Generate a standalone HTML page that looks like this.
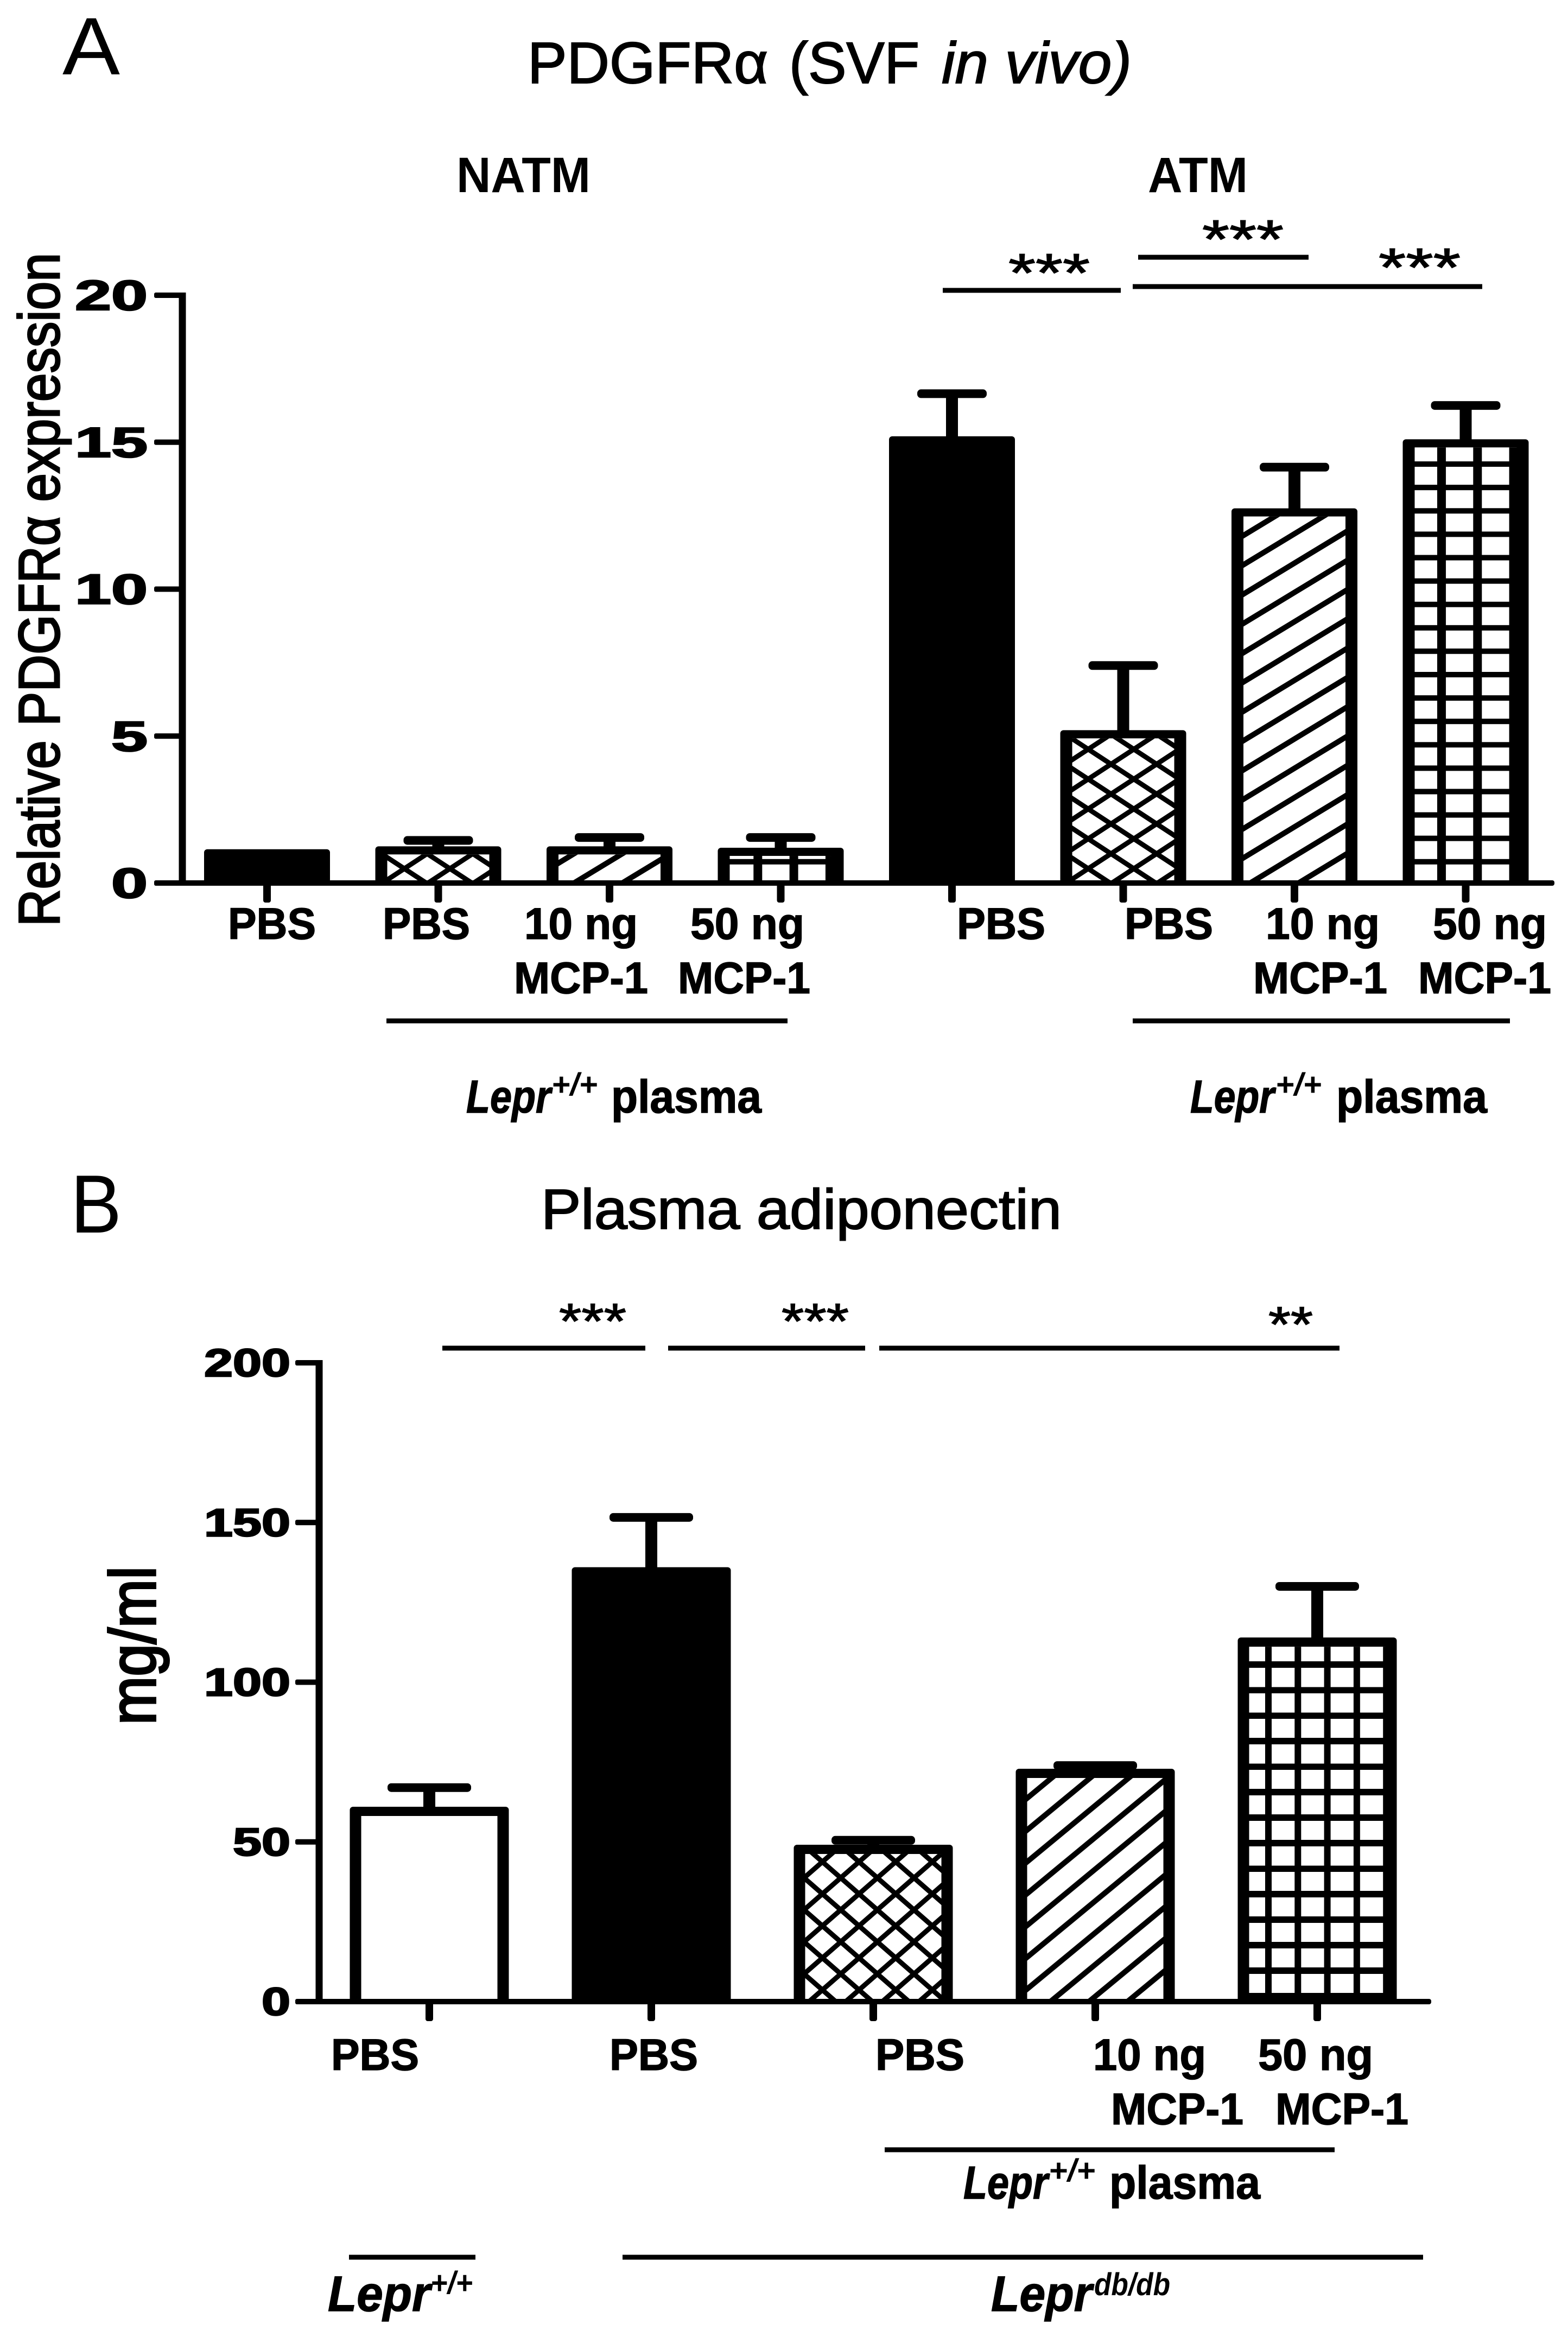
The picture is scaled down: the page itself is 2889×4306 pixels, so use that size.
<!DOCTYPE html>
<html lang="en">
<head>
<meta charset="utf-8">
<title>PDGFRα and plasma adiponectin bar charts</title>
<style>
html,body{margin:0;padding:0;background:#fff;}
svg{display:block;}
text{font-family:"Liberation Sans",sans-serif;fill:#000;}
.b{font-weight:bold;}
.i{font-style:italic;}
.cat{font-weight:bold;font-size:82px;stroke:#000;stroke-width:1.5px;}
.lep{font-weight:bold;font-size:85px;stroke:#000;stroke-width:1.5px;}
.sup{font-weight:bold;font-style:italic;font-size:58px;}
.sig{font-size:100px;stroke:#000;stroke-width:1.5px;}
.sigb{font-size:92px;stroke:#000;stroke-width:1.5px;}
.heavy{stroke:#000;stroke-width:2px;}
.ln{stroke:#000;stroke-width:9;stroke-linecap:butt;}
</style>
</head>
<body>
<svg id="fig" xmlns="http://www.w3.org/2000/svg" width="2889" height="4306" viewBox="0 0 2889 4306">
<defs>
<pattern id="crossA" patternUnits="userSpaceOnUse" width="84" height="55" patternTransform="translate(2047,1408)">
<path d="M-84 -55L168 110M0 -55L252 110M-168 -55L84 110M-84 110L168 -55M-168 110L84 -55M0 110L252 -55" stroke="#000" stroke-width="9" fill="none"/>
</pattern>
<pattern id="diagA" patternUnits="userSpaceOnUse" width="89" height="54" patternTransform="translate(2292,1256)">
<path d="M-89 108L178 -54M-178 108L89 -54M0 108L267 -54" stroke="#000" stroke-width="10" fill="none"/>
</pattern>
<pattern id="gridA" patternUnits="userSpaceOnUse" width="66.3" height="43.1" patternTransform="translate(2648,1238)">
<rect x="0" y="0" width="66.3" height="10" fill="#000"/><rect x="0" y="0" width="16" height="43.1" fill="#000"/>
</pattern>
<pattern id="crossB" patternUnits="userSpaceOnUse" width="67.5" height="59" patternTransform="translate(1549,3460)">
<path d="M-67.5 -59L135 118M0 -59L202.5 118M-135 -59L67.5 118M-67.5 118L135 -59M-135 118L67.5 -59M0 118L202.5 -59" stroke="#000" stroke-width="9" fill="none"/>
</pattern>
<pattern id="diagB" patternUnits="userSpaceOnUse" width="71" height="58.6" patternTransform="translate(1891,3314.4)">
<path d="M-71 117.2L142 -58.6M-142 117.2L71 -58.6M0 117.2L213 -58.6" stroke="#000" stroke-width="10" fill="none"/>
</pattern>
<pattern id="gridB" patternUnits="userSpaceOnUse" width="54.3" height="47" patternTransform="translate(2331,3061)">
<rect x="0" y="0" width="54.3" height="12" fill="#000"/><rect x="0" y="0" width="12" height="47" fill="#000"/>
</pattern>
</defs>

<!-- Panel A static text -->
<text x="115" y="137" font-size="150" textLength="106" lengthAdjust="spacingAndGlyphs">A</text>
<g>
<text class="heavy" x="972" y="153" font-size="108" textLength="443" lengthAdjust="spacingAndGlyphs">PDGFRα</text>
<text class="heavy" x="1454" y="153" font-size="108" textLength="240" lengthAdjust="spacingAndGlyphs">(SVF</text>
<text class="heavy i" x="1735" y="153" font-size="108" textLength="350" lengthAdjust="spacingAndGlyphs">in vivo)</text>
</g>
<text x="841" y="354" class="b" font-size="92" textLength="247" lengthAdjust="spacingAndGlyphs">NATM</text>
<text x="2115" y="354" class="b" font-size="92" textLength="184" lengthAdjust="spacingAndGlyphs">ATM</text>
<text class="heavy" transform="translate(109,1707) rotate(-90)" font-size="107" textLength="1241" lengthAdjust="spacingAndGlyphs" style="stroke-width:3px">Relative PDGFRα expression</text>

<g>
<text class="cat" x="420" y="1730" textLength="162" lengthAdjust="spacingAndGlyphs">PBS</text>
<text class="cat" x="705" y="1730" textLength="161" lengthAdjust="spacingAndGlyphs">PBS</text>
<text class="cat" x="966" y="1730" textLength="209" lengthAdjust="spacingAndGlyphs">10 ng</text>
<text class="cat" x="947" y="1830" textLength="247" lengthAdjust="spacingAndGlyphs">MCP-1</text>
<text class="cat" x="1272" y="1730" textLength="210" lengthAdjust="spacingAndGlyphs">50 ng</text>
<text class="cat" x="1249" y="1830" textLength="244" lengthAdjust="spacingAndGlyphs">MCP-1</text>
<text class="cat" x="1763" y="1730" textLength="163" lengthAdjust="spacingAndGlyphs">PBS</text>
<text class="cat" x="2072" y="1730" textLength="163" lengthAdjust="spacingAndGlyphs">PBS</text>
<text class="cat" x="2332" y="1730" textLength="210" lengthAdjust="spacingAndGlyphs">10 ng</text>
<text class="cat" x="2309" y="1830" textLength="247" lengthAdjust="spacingAndGlyphs">MCP-1</text>
<text class="cat" x="2640" y="1730" textLength="210" lengthAdjust="spacingAndGlyphs">50 ng</text>
<text class="cat" x="2613" y="1830" textLength="245" lengthAdjust="spacingAndGlyphs">MCP-1</text>
</g>

<line class="ln" x1="712" y1="1881" x2="1451" y2="1881"/>
<line class="ln" x1="2087" y1="1881" x2="2782" y2="1881"/>
<g>
<text class="lep i" x="859" y="2050" textLength="156" lengthAdjust="spacingAndGlyphs">Lepr</text>
<text class="sup" x="1016" y="2018" textLength="85" lengthAdjust="spacingAndGlyphs">+/+</text>
<text class="lep" x="1126" y="2050" textLength="277" lengthAdjust="spacingAndGlyphs">plasma</text>
</g>
<g>
<text class="lep i" x="2193" y="2050" textLength="155" lengthAdjust="spacingAndGlyphs">Lepr</text>
<text class="sup" x="2350" y="2018" textLength="85" lengthAdjust="spacingAndGlyphs">+/+</text>
<text class="lep" x="2462" y="2050" textLength="278" lengthAdjust="spacingAndGlyphs">plasma</text>
</g>

<g>
<line class="ln" x1="1737" y1="535" x2="2065" y2="535"/>
<text class="sig" x="1858" y="537" textLength="150" lengthAdjust="spacingAndGlyphs">***</text>
<line class="ln" x1="2097" y1="474" x2="2411" y2="474"/>
<text class="sig" x="2215" y="475" textLength="150" lengthAdjust="spacingAndGlyphs">***</text>
<line class="ln" x1="2087" y1="528" x2="2731" y2="528"/>
<text class="sig" x="2540" y="527" textLength="151" lengthAdjust="spacingAndGlyphs">***</text>
</g>

<!-- Panel B static text -->
<text x="130" y="2271" font-size="152" textLength="94" lengthAdjust="spacingAndGlyphs">B</text>
<text class="heavy" x="997" y="2264" font-size="104" textLength="959" lengthAdjust="spacingAndGlyphs">Plasma adiponectin</text>
<text class="heavy" transform="translate(286,3178) rotate(-90)" font-size="120" textLength="292" lengthAdjust="spacingAndGlyphs" style="stroke-width:4px">mg/ml</text>

<g>
<text class="cat" x="610" y="3814" textLength="162" lengthAdjust="spacingAndGlyphs">PBS</text>
<text class="cat" x="1123" y="3814" textLength="163" lengthAdjust="spacingAndGlyphs">PBS</text>
<text class="cat" x="1613" y="3814" textLength="164" lengthAdjust="spacingAndGlyphs">PBS</text>
<text class="cat" x="2014" y="3814" textLength="208" lengthAdjust="spacingAndGlyphs">10 ng</text>
<text class="cat" x="2047" y="3914" textLength="244" lengthAdjust="spacingAndGlyphs">MCP-1</text>
<text class="cat" x="2318" y="3814" textLength="212" lengthAdjust="spacingAndGlyphs">50 ng</text>
<text class="cat" x="2350" y="3914" textLength="245" lengthAdjust="spacingAndGlyphs">MCP-1</text>
</g>

<line class="ln" x1="1630" y1="3961" x2="2459" y2="3961"/>
<g>
<text class="lep i" x="1775" y="4051" textLength="156" lengthAdjust="spacingAndGlyphs">Lepr</text>
<text class="sup" x="1932" y="4019" textLength="86" lengthAdjust="spacingAndGlyphs">+/+</text>
<text class="lep" x="2044" y="4051" textLength="278" lengthAdjust="spacingAndGlyphs">plasma</text>
</g>
<line class="ln" x1="643" y1="4159" x2="876" y2="4159"/>
<line class="ln" x1="1147" y1="4159" x2="2622" y2="4159"/>
<g>
<text class="lep i" x="604" y="4258" textLength="189" lengthAdjust="spacingAndGlyphs" style="font-size:92px">Lepr</text>
<text class="sup" x="793" y="4226" textLength="78" lengthAdjust="spacingAndGlyphs">+/+</text>
</g>
<g>
<text class="lep i" x="1826" y="4258" textLength="186" lengthAdjust="spacingAndGlyphs" style="font-size:92px">Lepr</text>
<text class="sup" x="2016" y="4229" textLength="140" lengthAdjust="spacingAndGlyphs">db/db</text>
</g>

<g>
<line class="ln" x1="815" y1="2484" x2="1189" y2="2484"/>
<text class="sigb" x="1030" y="2466" textLength="124" lengthAdjust="spacingAndGlyphs">***</text>
<line class="ln" x1="1231" y1="2484" x2="1594" y2="2484"/>
<text class="sigb" x="1440" y="2466" textLength="124" lengthAdjust="spacingAndGlyphs">***</text>
<line class="ln" x1="1620" y1="2484" x2="2468" y2="2484"/>
<text class="sigb" x="2337" y="2472" textLength="82" lengthAdjust="spacingAndGlyphs">**</text>
</g>

<g id="chartA"></g>
<g id="chartB"></g>
</svg>

<script>
// Panel A data
const aCategories = ['NATM PBS', 'NATM Lepr PBS', 'NATM 10 ng MCP-1', 'NATM 50 ng MCP-1', 'ATM PBS', 'ATM Lepr PBS', 'ATM 10 ng MCP-1', 'ATM 50 ng MCP-1'];
const aValues = [1.15, 1.25, 1.25, 1.2, 15.2, 5.2, 12.75, 15.1];
const aErrorTops = [null, 1.45, 1.55, 1.55, 16.65, 7.4, 14.15, 16.25];
const aFills = ['solid', 'cross', 'diag', 'grid', 'solid', 'cross', 'diag', 'grid'];
const aYTicks = [0, 5, 10, 15, 20];

// Panel B data
const bCategories = ['Lepr+/+ PBS', 'db/db PBS', 'db/db Lepr PBS', 'db/db 10 ng MCP-1', 'db/db 50 ng MCP-1'];
const bValues = [61, 136, 49.1, 72.9, 114];
const bErrorTops = [67, 151.6, 50.5, 73.9, 130];
const bFills = ['white', 'solid', 'cross', 'diag', 'grid'];
const bYTicks = [0, 50, 100, 150, 200];

const NS = 'http://www.w3.org/2000/svg';
function mk(parent, tag, attrs) {
  const el = document.createElementNS(NS, tag);
  for (const k in attrs) el.setAttribute(k, attrs[k]);
  parent.appendChild(el);
  return el;
}

function drawChart(root, cfg) {
  const y = v => cfg.y0 - (v / cfg.yMax) * (cfg.y0 - cfg.yTop);
  const x = i => cfg.x0 + i * cfg.step;

  cfg.categories.forEach((cat, i) => {
    const cx = x(i);
    const top = y(cfg.values[i]);
    const left = cx - cfg.barW / 2;
    const g = mk(root, 'g', {});
    
    

    if (cfg.errorTops[i] !== null) {
      const capY = y(cfg.errorTops[i]);
      const stem = mk(g, 'rect', {x: cx - 11, y: capY, width: 22, height: Math.max(top - capY, 0) + 10, fill: '#000'});
      
      
      const cap = mk(g, 'rect', {x: cx - cfg.capW / 2, y: capY - 8, width: cfg.capW, height: 16, rx: 7, fill: '#000'});
      
      
    }

    const outer = mk(g, 'rect', {x: left, y: top, width: cfg.barW, height: cfg.y0 - top, rx: 6, fill: '#000'});
    
    

    const kind = cfg.fills[i];
    if (kind !== 'solid') {
      const innerTop = top + cfg.wallTop;
      const innerH = Math.max(cfg.y0 - innerTop, 0);
      const innerW = cfg.barW - 2 * cfg.wallSide;
      const base = mk(g, 'rect', {x: left + cfg.wallSide, y: innerTop, width: innerW, height: innerH, fill: '#fff'});
      
      
      if (kind !== 'white') {
        const hatch = mk(g, 'rect', {x: left + cfg.wallSide, y: innerTop, width: innerW, height: innerH, fill: 'url(#' + kind + cfg.suffix + ')'});
        
        
      }
    }

    const tick = mk(root, 'rect', {x: cx - 7, y: cfg.y0, width: 14, height: 36, rx: 4, fill: '#000'});
    
    
  });

  const yAxis = mk(root, 'rect', {x: cfg.axisX - 6.5, y: y(cfg.yMax) - 5, width: 13, height: cfg.y0 - y(cfg.yMax) + 10, fill: '#000'});
  
  
  const xAxis = mk(root, 'rect', {x: cfg.axisX, y: cfg.y0 - 5, width: cfg.axisEnd - cfg.axisX, height: 10, rx: 4, fill: '#000'});
  
  

  cfg.yTicks.forEach(t => {
    const ty = y(t);
    const tick = mk(root, 'rect', {x: cfg.tickLeft, y: ty - 5, width: cfg.axisX - cfg.tickLeft, height: 10, rx: 3, fill: '#000'});
    
    
    const label = String(t);
    const txt = mk(root, 'text', {
      x: cfg.labelRight, y: ty + cfg.labelDy, 'text-anchor': 'end',
      'font-size': cfg.labelSize, 'font-weight': 'bold', stroke: '#000', 'stroke-width': 2.5,
      textLength: label.length * cfg.digitW, lengthAdjust: 'spacingAndGlyphs'
    });
    txt.textContent = label;
    
    
  });
}

drawChart(document.getElementById('chartA'), {
  categories: aCategories, values: aValues, errorTops: aErrorTops, fills: aFills, yTicks: aYTicks,
  yMax: 20, y0: 1627, yTop: 544, x0: 492, step: 315.5, barW: 232, capW: 128,
  wallSide: 22, wallTop: 15, suffix: 'A', axisX: 336, axisEnd: 2864, tickLeft: 284,
  labelRight: 272, labelDy: 27, labelSize: 78, digitW: 67
});
drawChart(document.getElementById('chartB'), {
  categories: bCategories, values: bValues, errorTops: bErrorTops, fills: bFills, yTicks: bYTicks,
  yMax: 200, y0: 3688, yTop: 2511, x0: 791, step: 409, barW: 293, capW: 154,
  wallSide: 21, wallTop: 17, suffix: 'B', axisX: 588, axisEnd: 2637, tickLeft: 544,
  labelRight: 535, labelDy: 25, labelSize: 72, digitW: 53
});
</script>
</body>
</html>
